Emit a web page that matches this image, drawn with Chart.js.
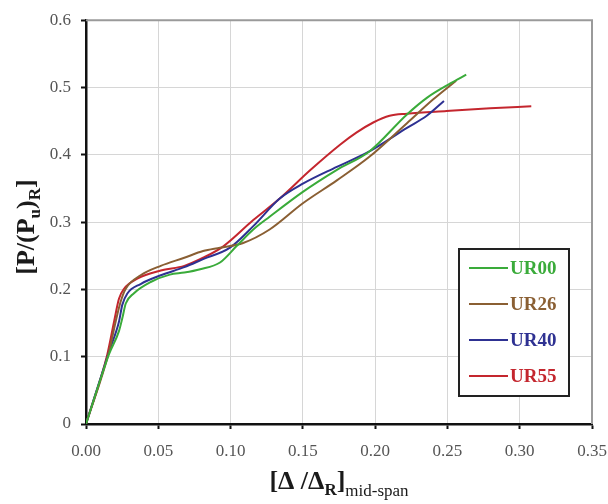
<!DOCTYPE html>
<html>
<head>
<meta charset="utf-8">
<script src="https://cdn.jsdelivr.net/npm/chart.js@4.4.1/dist/chart.umd.min.js"></script>
<style>
  body { margin: 0; background: #fff; }
  #wrap { width: 608px; height: 504px; }
</style>
</head>
<body>
<div id="wrap"><canvas id="chart"></canvas></div>
<script>
// series names + colours
const seriesNames = ["UR00", "UR26", "UR40", "UR55"];
const seriesColors = ["#3aab3a", "#8a5f33", "#2e3192", "#c4262e"];

// values
const ur00X = [0, 0.016, 0.0228, 0.0251, 0.0275, 0.033, 0.0447, 0.058, 0.068, 0.079, 0.0927, 0.104, 0.1157, 0.127, 0.150, 0.173, 0.196, 0.222, 0.236, 0.252, 0.263];
const ur00Y = [0, 0.104, 0.138, 0.157, 0.179, 0.194, 0.211, 0.222, 0.225, 0.230, 0.240, 0.264, 0.289, 0.308, 0.345, 0.377, 0.405, 0.460, 0.485, 0.506, 0.519];

const ur26X = [0, 0.016, 0.0205, 0.024, 0.0275, 0.0378, 0.0517, 0.068, 0.081, 0.0927, 0.1087, 0.127, 0.150, 0.1735, 0.196, 0.222, 0.240, 0.256];
const ur26Y = [0, 0.108, 0.152, 0.182, 0.201, 0.221, 0.235, 0.247, 0.257, 0.262, 0.269, 0.289, 0.328, 0.362, 0.397, 0.447, 0.482, 0.510];

const ur40X = [0, 0.016, 0.0228, 0.0251, 0.0286, 0.0378, 0.0517, 0.068, 0.081, 0.0996, 0.1157, 0.134, 0.150, 0.1735, 0.196, 0.222, 0.2357, 0.2476];
const ur40Y = [0, 0.108, 0.152, 0.177, 0.194, 0.208, 0.221, 0.233, 0.245, 0.262, 0.294, 0.335, 0.357, 0.382, 0.405, 0.440, 0.458, 0.480];

const ur55X = [0, 0.0147, 0.0194, 0.0228, 0.0263, 0.0355, 0.0517, 0.068, 0.081, 0.095, 0.1157, 0.134, 0.155, 0.1757, 0.187, 0.1987, 0.210, 0.222, 0.2495, 0.2795, 0.308];
const ur55Y = [0, 0.103, 0.152, 0.186, 0.201, 0.216, 0.228, 0.235, 0.247, 0.264, 0.303, 0.335, 0.377, 0.415, 0.433, 0.448, 0.458, 0.461, 0.465, 0.469, 0.472];

// axis ticks
const xTicks = [0, 0.05, 0.10, 0.15, 0.20, 0.25, 0.30, 0.35];
const yTicks = [0, 0.1, 0.2, 0.3, 0.4, 0.5, 0.6];

const allX = [ur00X, ur26X, ur40X, ur55X];
const allY = [ur00Y, ur26Y, ur40Y, ur55Y];

function pts(xs, ys) {
  return xs.map((x, i) => ({ x: x, y: ys[i] }));
}

const datasets = seriesNames.map((name, i) => ({
  label: name,
  data: pts(allX[i], allY[i]),
  borderColor: seriesColors[i],
  borderWidth: 2,
  pointRadius: 0,
  cubicInterpolationMode: "monotone",
  fill: false
}));

const SERIF = "'Liberation Serif', 'Times New Roman', serif";

// draw text made of pieces (for subscripts), centred on cx
function drawPieces(ctx, pieces, cx, baseY) {
  let total = 0;
  pieces.forEach(p => { ctx.font = p.font; p.w = ctx.measureText(p.t).width; total += p.w; });
  let x = cx - total / 2;
  pieces.forEach(p => {
    ctx.font = p.font;
    ctx.fillText(p.t, x, baseY + (p.dy || 0));
    x += p.w;
  });
}

const extras = {
  id: "extras",
  beforeDatasetsDraw(chart) {
    const { ctx, chartArea: a } = chart;
    ctx.save();
    ctx.strokeStyle = "#9a9a9a";
    ctx.lineWidth = 2;
    ctx.beginPath();
    ctx.moveTo(a.left, a.top);
    ctx.lineTo(a.right, a.top);
    ctx.lineTo(a.right, a.bottom);
    ctx.stroke();
    ctx.restore();
  },
  afterDraw(chart) {
    const { ctx, chartArea: a } = chart;
    ctx.save();
    ctx.fillStyle = "#1a1a1a";
    ctx.textAlign = "left";
    ctx.textBaseline = "alphabetic";

    // x title
    const big = "bold 26px " + SERIF;
    const sub = "bold 17px " + SERIF;
    drawPieces(ctx, [
      { t: "[\u0394 /\u0394", font: big },
      { t: "R", font: sub, dy: 6 },
      { t: "]", font: big },
      { t: "mid-span", font: "17px " + SERIF, dy: 7 }
    ], (a.left + a.right) / 2, 489);

    // y title
    ctx.translate(34, (a.top + a.bottom) / 2 + 5);
    ctx.rotate(-Math.PI / 2);
    drawPieces(ctx, [
      { t: "[P/(P", font: big },
      { t: "u", font: sub, dy: 6 },
      { t: ")", font: big },
      { t: "R", font: sub, dy: 6 },
      { t: "]", font: big }
    ], 0, 0);
    ctx.restore();

    // legend box
    ctx.save();
    const bx = a.right - 133, by = 249, bw = 110, bh = 147;
    ctx.fillStyle = "#fff";
    ctx.fillRect(bx, by, bw, bh);
    ctx.strokeStyle = "#222";
    ctx.lineWidth = 2;
    ctx.strokeRect(bx, by, bw, bh);
    ctx.font = "bold 19px " + SERIF;
    ctx.textBaseline = "middle";
    seriesNames.forEach((name, i) => {
      const y = by + 19 + i * 36;
      ctx.strokeStyle = seriesColors[i];
      ctx.lineWidth = 2;
      ctx.beginPath();
      ctx.moveTo(bx + 10, y);
      ctx.lineTo(bx + 49, y);
      ctx.stroke();
      ctx.fillStyle = seriesColors[i];
      ctx.fillText(name, bx + 51, y + 1);
    });
    ctx.restore();
  }
};

new Chart(document.getElementById("chart"), {
  type: "line",
  data: { datasets: datasets },
  plugins: [extras],
  options: {
    responsive: true,
    maintainAspectRatio: false,
    animation: false,
    layout: { padding: { top: 14, right: 0, left: 0, bottom: 0 } },
    plugins: { legend: { display: false }, tooltip: { enabled: false } },
    scales: {
      x: {
        type: "linear",
        min: 0, max: 0.35,
        afterFit: s => { s.height = 80; s.paddingRight = 16; s.paddingLeft = 0; },
        afterBuildTicks: s => { s.ticks = xTicks.map(v => ({ value: v })); },
        ticks: {
          color: "#555",
          font: { family: SERIF, size: 17 },
          padding: 12,
          maxRotation: 0,
          callback: v => v.toFixed(2)
        },
        grid: { color: "#d6d6d6", tickColor: "#111", tickLength: 5, tickWidth: 2 },
        border: { color: "#111", width: 2.5 }
      },
      y: {
        type: "linear",
        min: 0, max: 0.6,
        afterFit: s => { s.width = 86; },
        afterBuildTicks: s => { s.ticks = yTicks.map(v => ({ value: v })); },
        ticks: {
          color: "#555",
          font: { family: SERIF, size: 17 },
          padding: 10,
          callback: v => (v === 0 ? "0" : v.toFixed(1))
        },
        grid: { color: "#d6d6d6", tickColor: "#111", tickLength: 5, tickWidth: 2 },
        border: { color: "#111", width: 2.5 }
      }
    }
  }
});
</script>
</body>
</html>
